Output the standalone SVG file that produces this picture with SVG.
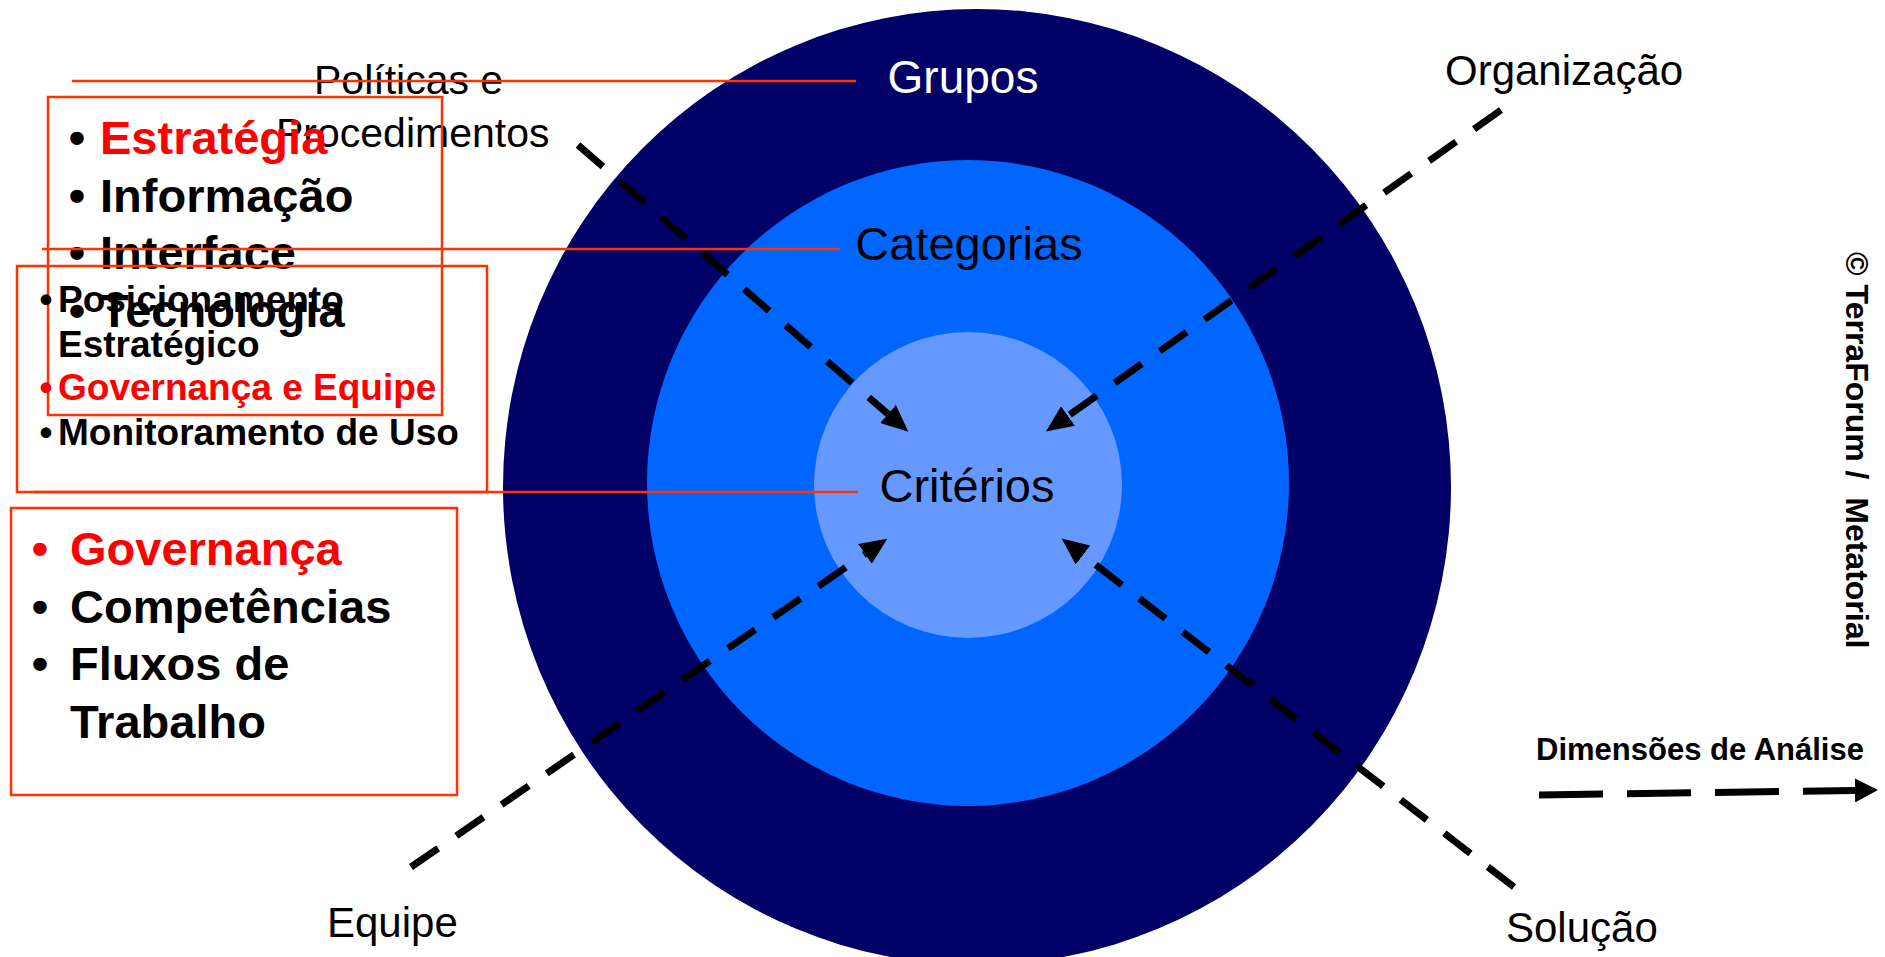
<svg xmlns="http://www.w3.org/2000/svg" width="1885" height="957" viewBox="0 0 1885 957">
<style>
.lbl{font-family:"Liberation Sans",Arial,sans-serif;fill:#000}
.b{font-family:"Liberation Sans",Arial,sans-serif;font-weight:bold;fill:#000}
.red{fill:#FF0000}
.dash{fill:none;stroke:#000;stroke-width:7;stroke-dasharray:33 22}
.lead{fill:none;stroke:#FF3300;stroke-width:2.5}
</style>
<defs>
<marker id="head" markerUnits="userSpaceOnUse" markerWidth="28" markerHeight="24" refX="0" refY="12" orient="auto">
<path d="M0,0 L27,12 L0,24 Z" fill="#000"/>
</marker>
<marker id="head2" markerUnits="userSpaceOnUse" markerWidth="24" markerHeight="24" refX="0" refY="12" orient="auto">
<path d="M0,0 L23,12 L0,24 Z" fill="#000"/>
</marker>
</defs>
<rect width="1885" height="957" fill="#fff"/>
<g id="grupos">
<ellipse cx="977" cy="487" rx="474" ry="478" fill="#000066"/>
<text class="lbl" x="963" y="93" font-size="46" text-anchor="middle" fill="#fff" style="fill:#fff">Grupos</text>
</g>
<g id="categorias">
<ellipse cx="968" cy="483" rx="321" ry="323" fill="#0066FF"/>
<text class="lbl" x="969" y="260" font-size="47" text-anchor="middle">Categorias</text>
</g>
<g id="criterios">
<ellipse cx="968" cy="485" rx="154" ry="153" fill="#6699FF"/>
<text class="lbl" x="967" y="502" font-size="47" text-anchor="middle">Critérios</text>
</g>
<g id="connectors">
<path class="dash" d="M578,145 L888,414" marker-end="url(#head)"/>
<path class="dash" d="M1501,110 L1068,416" marker-end="url(#head)"/>
<path class="dash" d="M411,867 L865,554" marker-end="url(#head)"/>
<path class="dash" d="M1514,887 L1083,555" marker-end="url(#head)"/>
<path class="dash" style="stroke-dasharray:64 24" d="M1539,795 L1855,790.4" marker-end="url(#head2)"/>
</g>
<g id="politicas">
<text class="lbl" x="314" y="94" font-size="41">Políticas e</text>
<text class="lbl" x="276" y="147" font-size="41">Procedimentos</text>
</g>
<g id="organizacao"><text class="lbl" x="1445" y="85" font-size="42">Organização</text></g>
<g id="equipe"><text class="lbl" x="327" y="937" font-size="42">Equipe</text></g>
<g id="solucao"><text class="lbl" x="1506" y="942" font-size="42">Solução</text></g>
<g id="legend"><text class="b" x="1536" y="760" font-size="31">Dimensões de Análise</text></g>
<g id="copyright"><text class="b" x="1846" y="252" font-size="32" transform="rotate(90 1846 252)" xml:space="preserve">© TerraForum /  Metatorial</text></g>
<g id="box-estrategia">
<text class="b" font-size="47" text-anchor="middle"><tspan x="77" y="154">•</tspan><tspan x="77" y="212">•</tspan><tspan x="77" y="269">•</tspan><tspan x="77" y="327">•</tspan></text>
<text class="b red" x="100" y="154" font-size="47">Estratégia</text>
<text class="b" x="100" y="212" font-size="47">Informação</text>
<text class="b" x="100" y="269" font-size="47">Interface</text>
<text class="b" x="100" y="327" font-size="47">Tecnologia</text>
<rect class="lead" x="48" y="97" width="394" height="318"/>
</g>
<g id="box-posicionamento">
<text class="b" font-size="37" text-anchor="middle"><tspan x="46" y="312">•</tspan><tspan x="46" y="445">•</tspan></text>
<text class="b red" font-size="37" text-anchor="middle" x="46" y="400">•</text>
<text class="b" x="58" y="312" font-size="37">Posicionamento</text>
<text class="b" x="58" y="357" font-size="37">Estratégico</text>
<text class="b red" x="58" y="400" font-size="37">Governança e Equipe</text>
<text class="b" x="58" y="445" font-size="37">Monitoramento de Uso</text>
<rect class="lead" x="17" y="266" width="470" height="226"/>
</g>
<g id="box-governanca">
<text class="b red" font-size="47" text-anchor="middle" x="40" y="565">•</text>
<text class="b" font-size="47" text-anchor="middle"><tspan x="40" y="623">•</tspan><tspan x="40" y="680">•</tspan></text>
<text class="b red" x="70" y="565" font-size="47">Governança</text>
<text class="b" x="70" y="623" font-size="47">Competências</text>
<text class="b" x="70" y="680" font-size="47">Fluxos de</text>
<text class="b" x="70" y="738" font-size="47">Trabalho</text>
<rect class="lead" x="11" y="508" width="446" height="287"/>
</g>
<g id="leaders">
<path class="lead" d="M72,81 H856"/>
<path class="lead" d="M42,249 H840"/>
<path class="lead" d="M34,492 H858"/>
</g>
</svg>
